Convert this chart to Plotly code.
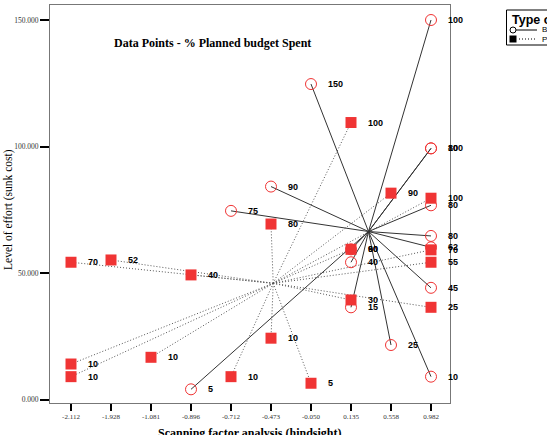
import plotly.graph_objects as go

# ---------------- data ----------------
categories = ["-2.112", "-1.928", "-1.081", "-0.896", "-0.712",
              "-0.473", "-0.050", "0.135", "0.558", "0.982"]

y_tick_vals = [0, 50000, 100000, 150000]
y_tick_text = ["0.000", "50.000", "100.000", "150.000"]

# Group B (open circles, solid spokes)
b_cat = ["0.982", "-0.050", "0.982", "0.982", "-0.473", "-0.712", "0.982", "0.982",
         "0.982", "0.135", "0.135", "0.135", "0.982", "0.558", "0.982", "-0.896"]
b_val = [150000, 124700, 99300, 99300, 84200, 74600, 76800, 64700,
         60200, 59400, 54300, 36500, 44200, 21600, 9100, 4100]
b_lbl = ["100", "150", "80", "100", "90", "75", "80", "80",
         "62", "90", "40", "15", "45", "25", "10", "5"]

# Group P (filled squares, dotted spokes)
p_cat = ["0.135", "0.558", "0.982", "-0.473", "-2.112", "-1.928", "-0.896", "0.135",
         "0.982", "0.982", "0.135", "0.982", "-0.473", "-1.081", "-2.112", "-2.112",
         "-0.712", "-0.050"]
p_val = [109500, 81600, 79600, 69400, 54300, 55200, 49300, 59400,
         59200, 54300, 39400, 36500, 24300, 16750, 14100, 9100,
         9100, 6500]
p_lbl = ["100", "90", "100", "80", "70", "52", "40", "60",
         "70", "55", "30", "25", "10", "10", "10", "10",
         "10", "5"]

legend_title = "Type of project"
legend_names = ["Budget spent", "Planned"]

# ---------------- layout geometry (pixels) ----------------
W, H = 547, 435
ML, MR, MT, MB = 50, 97, 5, 32
PW, PH = W - ML - MR, H - MT - MB


def fx(px):  # pixel x -> paper x
    return (px - ML) / PW


def fy(py):  # pixel y -> paper y
    return (H - MB - py) / PH


# ---------------- helpers ----------------
idx = {c: i for i, c in enumerate(categories)}
bx = [idx[c] for c in b_cat]
px_ = [idx[c] for c in p_cat]


def spokes(xs, ys):
    cx = sum(xs) / len(xs)
    cy = sum(ys) / len(ys)
    lx, ly = [], []
    for x, y in zip(xs, ys):
        lx += [cx, x, None]
        ly += [cy, y, None]
    return lx, ly


RED = "#f03434"
fig = go.Figure()

blx, bly = spokes(bx, b_val)
plx, ply = spokes(px_, p_val)

fig.add_trace(go.Scatter(x=plx, y=ply, mode="lines", showlegend=False,
                         line=dict(color="#555555", width=1, dash="1px,2px"),
                         hoverinfo="skip"))
fig.add_trace(go.Scatter(x=blx, y=bly, mode="lines", showlegend=False,
                         line=dict(color="#333333", width=1),
                         hoverinfo="skip"))
fig.add_trace(go.Scatter(x=bx, y=b_val, mode="markers", showlegend=False,
                         marker=dict(symbol="circle-open", size=11,
                                     color=RED, line=dict(width=1, color=RED))))
fig.add_trace(go.Scatter(x=px_, y=p_val, mode="markers", showlegend=False,
                         marker=dict(symbol="square", size=11, color=RED,
                                     line=dict(width=0))))

# point labels
for xs, ys, ls in ((bx, b_val, b_lbl), (px_, p_val, p_lbl)):
    for x, y, t in zip(xs, ys, ls):
        fig.add_annotation(x=x, y=y, text=t, showarrow=False, xanchor="left",
                           yanchor="middle", xshift=15,
                           font=dict(family="Liberation Sans", size=9, color="black",
                                     weight="bold"))

# title & axis titles
fig.add_annotation(xref="paper", yref="paper", x=fx(212), y=fy(42.5),
                   xanchor="center", yanchor="middle",
                   text="Data Points - % Planned budget Spent", showarrow=False,
                   font=dict(family="Liberation Serif", size=12, color="black", weight="bold"))
fig.add_annotation(xref="paper", yref="paper", x=fx(9), y=fy(210), textangle=-90,
                   xanchor="center", yanchor="middle",
                   text="Level of effort (sunk cost)", showarrow=False,
                   font=dict(family="Liberation Serif", size=11.5, color="black"))
fig.add_annotation(xref="paper", yref="paper", x=0.5, y=fy(424), yanchor="top",
                   xanchor="center",
                   text="Scanning factor analysis (hindsight)", showarrow=False,
                   font=dict(family="Liberation Serif", size=12, color="black", weight="bold"))

# ---------------- hand-drawn legend (compact, cut by the page edge) ----------------
fig.add_shape(type="rect", xref="paper", yref="paper",
              x0=fx(506.5), x1=fx(600), y0=fy(45), y1=fy(10),
              line=dict(color="black", width=1), fillcolor="white", layer="above")
fig.add_annotation(xref="paper", yref="paper", x=fx(510), y=fy(19.5),
                   xanchor="left", yanchor="middle", text=legend_title, showarrow=False,
                   font=dict(family="Liberation Sans", size=12.5, color="black", weight="bold"))
# row 1: open circle + solid line
fig.add_shape(type="circle", xref="paper", yref="paper",
              x0=fx(510), x1=fx(516), y0=fy(33), y1=fy(27),
              line=dict(color="black", width=1), layer="above")
fig.add_shape(type="line", xref="paper", yref="paper",
              x0=fx(516), x1=fx(537), y0=fy(30), y1=fy(30),
              line=dict(color="black", width=1), layer="above")
fig.add_annotation(xref="paper", yref="paper", x=fx(540), y=fy(30),
                   xanchor="left", yanchor="middle", text=legend_names[0], showarrow=False,
                   font=dict(family="Liberation Sans", size=8, color="black"))
# row 2: filled square + dotted line
fig.add_shape(type="rect", xref="paper", yref="paper",
              x0=fx(509.5), x1=fx(516.5), y0=fy(42.5), y1=fy(35.5),
              line=dict(color="black", width=0), fillcolor="black", layer="above")
fig.add_shape(type="line", xref="paper", yref="paper",
              x0=fx(519), x1=fx(537), y0=fy(39), y1=fy(39),
              line=dict(color="black", width=1, dash="1px,2px"), layer="above")
fig.add_annotation(xref="paper", yref="paper", x=fx(540), y=fy(39),
                   xanchor="left", yanchor="middle", text=legend_names[1], showarrow=False,
                   font=dict(family="Liberation Sans", size=8, color="black"))

fig.update_xaxes(range=[-0.525, 9.475], tickvals=list(range(len(categories))),
                 ticktext=categories, showgrid=False, zeroline=False,
                 showline=True, linecolor="#777777", linewidth=1, mirror=True,
                 ticks="outside", ticklen=7, tickwidth=2, tickcolor="black",
                 tickfont=dict(family="Liberation Sans Narrow", size=7, color="#333333"))
fig.update_yaxes(range=[-1304, 155930], tickvals=y_tick_vals, ticktext=y_tick_text,
                 showgrid=False, zeroline=False,
                 showline=True, linecolor="#777777", linewidth=1, mirror=True,
                 ticks="outside", ticklen=9, tickwidth=2, tickcolor="black",
                 tickfont=dict(family="Liberation Sans Narrow", size=7.5, color="#333333"))

fig.update_layout(
    width=W, height=H,
    margin=dict(l=ML, r=MR, t=MT, b=MB, autoexpand=False),
    paper_bgcolor="white", plot_bgcolor="white",
    showlegend=False,
)

fig.write_html("out.html")
